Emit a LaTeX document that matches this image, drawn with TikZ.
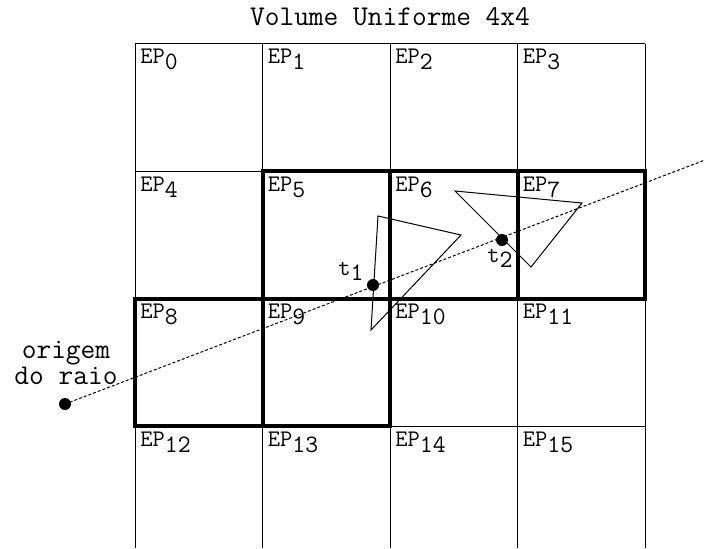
\documentclass[tikz,border=0pt]{standalone}
\usepackage{fontspec}
\begin{document}
\begin{tikzpicture}[x=0.5pt,y=-0.5pt,
  gridline/.style={line width=0.5pt},
  boldline/.style={line width=2pt, line join=miter},
  tri/.style={line width=0.5pt, line join=miter},
  ray/.style={line width=0.5pt, dash pattern=on 1.5pt off 1pt},
  dot/.style={circle, fill=black, inner sep=0pt, minimum size=6pt},
  eplabel/.style={anchor=base west, inner sep=0pt, font=\ttfamily\fontsize{11.9}{13}\selectfont},
  bigtext/.style={font=\ttfamily\fontsize{14.3}{11.5}\selectfont}
]
\useasboundingbox (0,0) rectangle (705,548);
% thin grid
\foreach \i in {0,...,4}
  \draw[gridline] ({135+127.5*\i},43.5) -- ({135+127.5*\i},548);
\foreach \j in {0,...,3}
  \draw[gridline] (135,{43.5+127.5*\j}) -- (645,{43.5+127.5*\j});
% bold cells
\draw[boldline] (262.5,171) rectangle (645,298.5);
\draw[boldline] (390,171) -- (390,298.5);
\draw[boldline] (517.5,171) -- (517.5,298.5);
\draw[boldline] (135,298.5) rectangle (390,426);
\draw[boldline] (262.5,298.5) -- (262.5,426);
% labels
\foreach \n in {0,...,15} {
  \pgfmathtruncatemacro{\c}{mod(\n,4)}
  \pgfmathtruncatemacro{\r}{int(\n/4)}
  \node[eplabel] (ep\n) at ({140+127.5*\c},{63.5+127.5*\r})
    {EP\raisebox{-3pt}{\fontsize{12.5}{13}\selectfont\n}};
}
\node[bigtext] (title) at (390,17) {Volume Uniforme 4x4};
\node[bigtext, align=center] (origlabel) at (66,363) {origem\\do raio};
% triangles
\draw[tri] (378,216) -- (461,235) -- (371,330) -- cycle;
\draw[tri] (455,191) -- (582,203) -- (531,267) -- cycle;
% ray
\node[dot] (o) at (65,404) {};
\coordinate (rayend) at (705,160);
\draw[ray] (o.center) -- (rayend);
\node[dot] (t1) at (373,285) {};
\node[dot] (t2) at (502,240) {};
\node[eplabel] (t1lab) at (338,275) {t\raisebox{-2.5pt}{\fontsize{12.5}{13}\selectfont 1}};
\node[eplabel] (t2lab) at (487,262) {t\raisebox{-2.5pt}{\fontsize{12.5}{13}\selectfont 2}};
\end{tikzpicture}
\end{document}
